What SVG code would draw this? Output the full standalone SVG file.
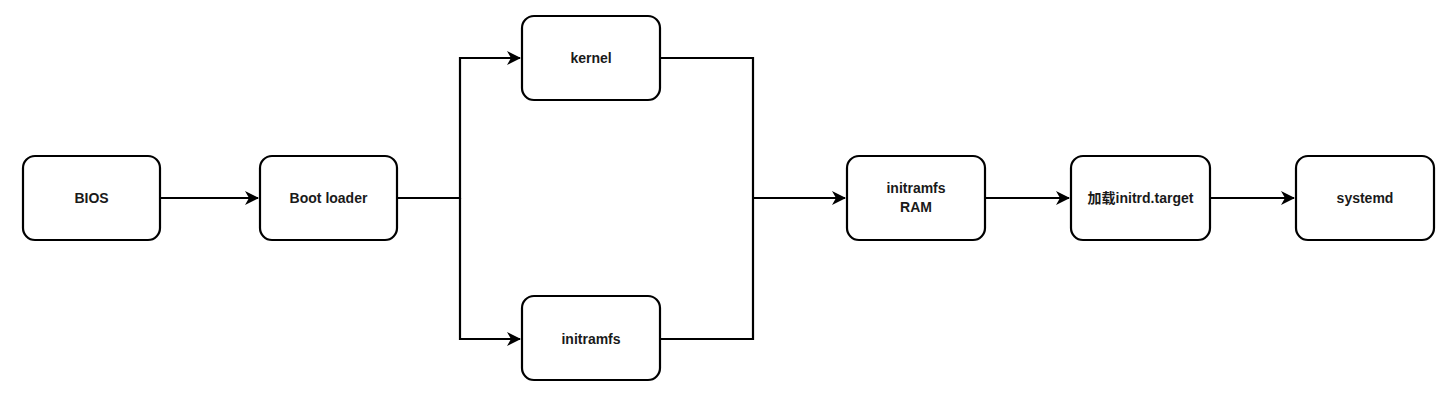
<svg xmlns="http://www.w3.org/2000/svg" width="1455" height="400" viewBox="0 0 1455 400">
<style>
.n rect{fill:#fff;stroke:#000;stroke-width:2.2}
.n text{font-family:"Liberation Sans","Noto Sans CJK SC",sans-serif;font-size:14px;font-weight:bold;fill:#1a1a1a;text-anchor:middle}
.e{fill:none;stroke:#000;stroke-width:2.2}
</style>
<defs>
<marker id="a" viewBox="0 0 14 14" refX="13" refY="7" markerWidth="14" markerHeight="14" markerUnits="userSpaceOnUse" orient="auto">
<path d="M0,0 L14,7 L0,14 L4,7 Z" fill="#000"/>
</marker>
</defs>
<rect width="1455" height="400" fill="#fff"/>
<g id="edges">
<path class="e" d="M160,198 H258" marker-end="url(#a)"/>
<path class="e" d="M397,198 H460 V58 H520" marker-end="url(#a)"/>
<path class="e" d="M460,198 V339 H520" marker-end="url(#a)"/>
<path class="e" d="M660,58 H753 V339 H660"/>
<path class="e" d="M753,198 H845" marker-end="url(#a)"/>
<path class="e" d="M985,198 H1069" marker-end="url(#a)"/>
<path class="e" d="M1210,198 H1294" marker-end="url(#a)"/>
</g>
<g id="bios" class="n"><rect x="23" y="156" width="137" height="84" rx="12"/><text x="91.5" y="203">BIOS</text></g>
<g id="bootloader" class="n"><rect x="260" y="156" width="137" height="84" rx="12"/><text x="328.5" y="203">Boot loader</text></g>
<g id="kernel" class="n"><rect x="522" y="16" width="138" height="84" rx="12"/><text x="591" y="63">kernel</text></g>
<g id="initramfs" class="n"><rect x="522" y="296" width="138" height="84" rx="12"/><text x="591" y="344">initramfs</text></g>
<g id="initramfs-ram" class="n"><rect x="847" y="156" width="138" height="84" rx="12"/><text x="916" y="193">initramfs</text><text x="916" y="212">RAM</text></g>
<g id="initrd-target" class="n"><rect x="1071" y="156" width="139" height="84" rx="12"/><text x="1140.5" y="203">加载initrd.target</text></g>
<g id="systemd" class="n"><rect x="1296" y="156" width="138" height="84" rx="12"/><text x="1365" y="203">systemd</text></g>
</svg>
